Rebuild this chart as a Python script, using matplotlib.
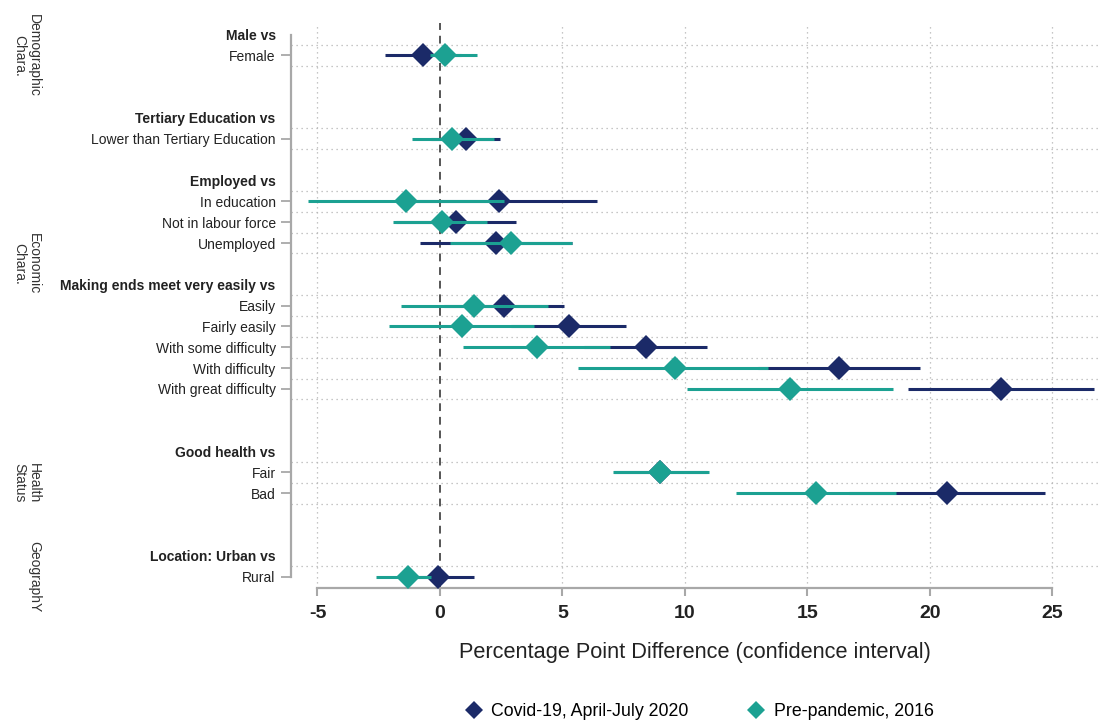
import matplotlib
matplotlib.use("Agg")
import matplotlib.pyplot as plt
from matplotlib.lines import Line2D
from matplotlib import transforms

plt.rcParams["font.family"] = ["Liberation Sans", "DejaVu Sans"]

# y-axis rows (top to bottom), headers in bold, blanks as spacers
row_labels = ["Male vs", "Female", "", "", "Tertiary Education vs",
              "Lower than Tertiary Education", "", "Employed vs", "In education",
              "Not in labour force", "Unemployed", "", "Making ends meet very easily vs",
              "Easily", "Fairly easily", "With some difficulty", "With difficulty",
              "With great difficulty", "", "", "Good health vs", "Fair", "Bad", "", "",
              "Location: Urban vs", "Rural"]
headers = ["Male vs", "Tertiary Education vs", "Employed vs",
           "Making ends meet very easily vs", "Good health vs", "Location: Urban vs"]

categories = ["Female", "Lower than Tertiary Education", "In education",
              "Not in labour force", "Unemployed", "Easily", "Fairly easily",
              "With some difficulty", "With difficulty", "With great difficulty",
              "Fair", "Bad", "Rural"]

covid_est = [-0.7, 1.05, 2.4, 0.65, 2.3, 2.6, 5.25, 8.4, 16.3, 22.9, 9.0, 20.7, -0.1]
covid_lo = [-2.25, -0.35, -1.6, -1.8, -0.8, 0.15, 2.9, 5.9, 13.0, 19.1, 7.1, 16.7, -1.6]
covid_hi = [0.85, 2.45, 6.4, 3.1, 5.4, 5.05, 7.6, 10.9, 19.6, 26.7, 10.9, 24.7, 1.4]

pre_est = [0.2, 0.5, -1.4, 0.1, 2.9, 1.4, 0.9, 3.95, 9.6, 14.3, 9.0, 15.35, -1.3]
pre_lo = [-0.4, -1.15, -5.4, -1.9, 0.4, -1.6, -2.1, 0.95, 5.65, 10.1, 7.05, 12.1, -2.6]
pre_hi = [1.5, 2.2, 2.6, 1.9, 5.4, 4.4, 3.85, 6.95, 13.4, 18.5, 11.0, 18.6, -0.35]

groups = ["Demographic\nChara.", "Economic\nChara.", "Health\nStatus", "GeographY"]
group_rows = [1, 11, 21.5, 26]

xticks = [-5, 0, 5, 10, 15, 20, 25]

NAVY = "#1b2a68"
TEAL = "#1ca192"
GRID = "#b4b4b4"
SPINE = "#a8a8a8"
TXT = "#222222"

fig = plt.figure(figsize=(11, 7.22), dpi=100)
ax = fig.add_axes([291 / 1100, 0.1856, 807 / 1100, 0.968 - 0.1856])

ypos = [row_labels.index(c) for c in categories]

# grid: dotted horizontals around each data row, dotted verticals at ticks
grid_rows = sorted({y + d for y in ypos for d in (-0.5, 0.5)} - {26.5})
for g in grid_rows:
    ax.axhline(g, color=GRID, lw=0.9, ls=(0, (1, 3)), zorder=0)
for xt in xticks:
    if xt == 0:
        continue
    ax.axvline(xt, color=GRID, lw=0.9, ls=(0, (1, 3)), zorder=0)
ax.axvline(0, color="#555555", lw=1.4, ls=(0, (4, 3)), zorder=1)

ax.hlines(ypos, covid_lo, covid_hi, color=NAVY, lw=2.2, zorder=2)
ax.plot(covid_est, ypos, "D", color=NAVY, ms=12, mew=0, zorder=3)
ax.hlines(ypos, pre_lo, pre_hi, color=TEAL, lw=2.2, zorder=4)
ax.plot(pre_est, ypos, "D", color=TEAL, ms=12, mew=0, zorder=5)

ax.set_xlim(-6.08, 26.86)
ax.set_ylim(26.55, -0.55)

tick_rows = [i for i, t in enumerate(row_labels) if t]
ax.set_yticks(tick_rows)
ax.set_yticklabels([row_labels[i] for i in tick_rows], fontsize=10, color=TXT)
for tick, i in zip(ax.yaxis.get_major_ticks(), tick_rows):
    if row_labels[i] in headers:
        tick.tick1line.set_visible(False)
        tick.label1.set_fontweight("bold")
ax.tick_params(axis="y", length=7, width=1.3, color=SPINE, pad=4)

ax.set_xticks(xticks)
ax.set_xticklabels([str(x) for x in xticks], fontsize=14, fontweight="bold", color=TXT)
ax.tick_params(axis="x", length=6, width=1.5, color=SPINE, pad=6)
ax.set_xlabel("Percentage Point Difference (confidence interval)", fontsize=15.7,
              color=TXT, labelpad=15)

for s in ("top", "right"):
    ax.spines[s].set_visible(False)
ax.spines["left"].set_color(SPINE)
ax.spines["left"].set_linewidth(1.6)
ax.spines["left"].set_bounds(0, 26)
ax.spines["bottom"].set_color(SPINE)
ax.spines["bottom"].set_linewidth(1.6)
ax.spines["bottom"].set_bounds(-5, 25)

trans = transforms.blended_transform_factory(fig.transFigure, ax.transData)
for g, r in zip(groups, group_rows):
    ax.text(0.024 if "\n" in g else 0.031, r, g, transform=trans, rotation=270,
            ha="center", va="center", multialignment="center", fontsize=10,
            color="#333333", linespacing=1.0)

handles = [Line2D([], [], ls="", marker="D", color=NAVY, ms=9, mew=0),
           Line2D([], [], ls="", marker="D", color=TEAL, ms=9, mew=0)]
fig.legend(handles, ["Covid-19, April-July 2020", "Pre-pandemic, 2016"], ncol=2,
           loc="center", bbox_to_anchor=(0.635, 0.014), frameon=False, fontsize=12.8,
           columnspacing=3.2, handletextpad=0.4, handlelength=1.2)

fig.savefig("out.png", dpi=100)
